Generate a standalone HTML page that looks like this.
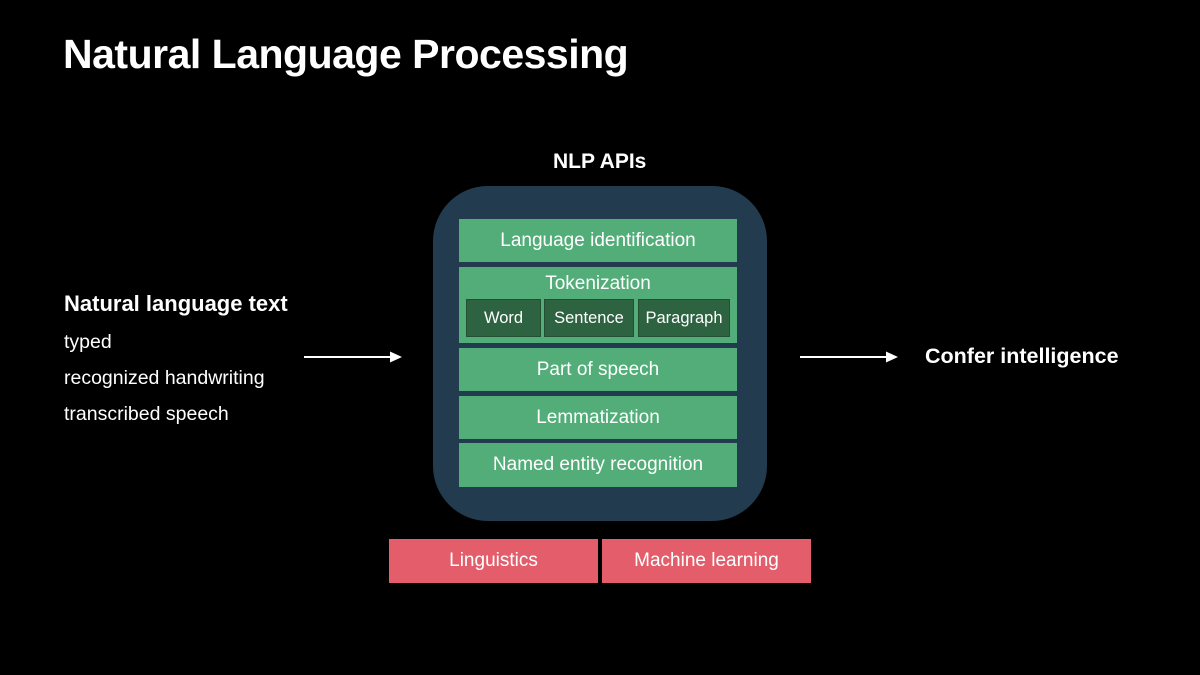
<!DOCTYPE html>
<html><head><style>
body{margin:0;width:1200px;height:675px;background:#000;position:relative;overflow:hidden;font-family:"Liberation Sans",sans-serif;color:#fff}
.a{position:absolute}
.t{display:flex;align-items:center;justify-content:center;position:absolute;font-size:19px}
.g{background:#52ad78}
.d{background:#2d6340;border:1px solid #234f33;box-sizing:border-box}
.p{background:#e35d6a}
</style></head><body>
<div class="a" style="left:63px;top:31px;font-size:41px;font-weight:bold;letter-spacing:-0.5px">Natural Language Processing</div>
<div class="a" style="left:553px;top:150px;font-size:21px;font-weight:bold">NLP APIs</div>
<div class="a" style="left:433px;top:186px;width:334px;height:335px;border-radius:55px;background:#223b4e"></div>
<div class="t g" style="left:459px;top:219px;width:278px;height:43px">Language identification</div>
<div class="g a" style="left:459px;top:267px;width:278px;height:76px"></div>
<div class="t" style="left:459px;top:273px;width:278px;height:22px">Tokenization</div>
<div class="t d" style="left:466px;top:299px;width:75px;height:38px;font-size:16.5px">Word</div>
<div class="t d" style="left:544px;top:299px;width:90px;height:38px;font-size:16.5px">Sentence</div>
<div class="t d" style="left:638px;top:299px;width:92px;height:38px;font-size:16.5px">Paragraph</div>
<div class="t g" style="left:459px;top:348px;width:278px;height:43px">Part of speech</div>
<div class="t g" style="left:459px;top:396px;width:278px;height:43px">Lemmatization</div>
<div class="t g" style="left:459px;top:443px;width:278px;height:44px">Named entity recognition</div>
<div class="t p" style="left:389px;top:539px;width:209px;height:44px">Linguistics</div>
<div class="t p" style="left:602px;top:539px;width:209px;height:44px">Machine learning</div>
<div class="a" style="left:64px;top:291px;font-size:22px;font-weight:bold">Natural language text</div>
<div class="a" style="left:64px;top:331px;font-size:19.5px">typed</div>
<div class="a" style="left:64px;top:367px;font-size:19.5px">recognized handwriting</div>
<div class="a" style="left:64px;top:403px;font-size:19.5px">transcribed speech</div>
<div class="a" style="left:925px;top:344px;font-size:21.5px;font-weight:bold">Confer intelligence</div>
<svg class="a" style="left:0;top:0" width="1200" height="675">
<line x1="304" y1="357" x2="392" y2="357" stroke="#fff" stroke-width="2"/>
<polygon points="402,357 390,351.5 390,362.5" fill="#fff"/>
<line x1="800" y1="357" x2="888" y2="357" stroke="#fff" stroke-width="2"/>
<polygon points="898,357 886,351.5 886,362.5" fill="#fff"/>
</svg>
</body></html>
